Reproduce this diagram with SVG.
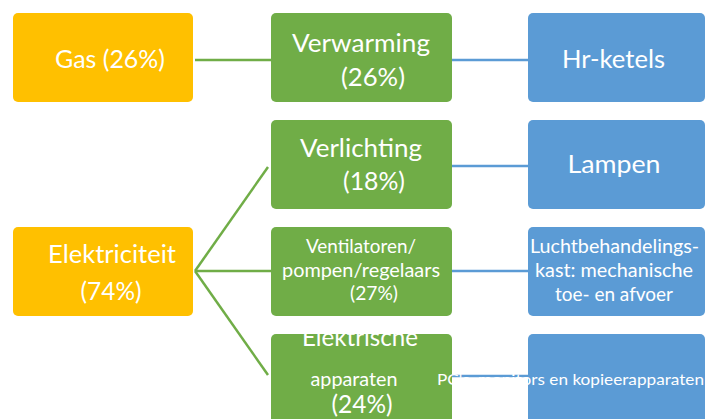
<svg xmlns="http://www.w3.org/2000/svg" width="706" height="419" viewBox="0 0 706 419">
<style>
.box{stroke:none}
.src{fill:#FFC000}
.mid{fill:#70AD47}
.dst{fill:#5B9BD5}
.g{stroke:#70AD47;stroke-width:2.5;fill:none}
.b{stroke:#5B9BD5;stroke-width:2.5;fill:none}
text{font-family:Lato,"Liberation Sans",Arial,sans-serif;fill:#FFFFFF;text-anchor:middle}
.big{font-size:25px}
.sm{font-size:19.5px}
.xs{font-size:16px}
</style>
<rect width="706" height="419" fill="#FFFFFF"/>
<g id="connectors">
<line class="g" x1="195" y1="60" x2="271" y2="60"/>
<line class="b" x1="452" y1="60" x2="528" y2="60"/>
<line class="b" x1="452" y1="166" x2="528" y2="166"/>
<line class="b" x1="452" y1="271" x2="528" y2="271"/>
<line class="b" x1="452" y1="376" x2="528" y2="376"/>
<line class="g" x1="195" y1="271" x2="268" y2="167"/>
<line class="g" x1="195" y1="271" x2="271" y2="271"/>
<line class="g" x1="195" y1="271" x2="268" y2="375"/>
</g>
<g id="gas">
<rect class="box src" x="13" y="13" width="180" height="89" rx="5"/>
<text class="big" x="110" y="68" textLength="110" lengthAdjust="spacingAndGlyphs">Gas (26%)</text>
</g>
<g id="verwarming">
<rect class="box mid" x="271" y="13" width="181" height="89" rx="5"/>
<text class="big" x="361" y="52" textLength="138" lengthAdjust="spacingAndGlyphs">Verwarming</text>
<text class="big" x="373" y="86" textLength="64" lengthAdjust="spacingAndGlyphs">(26%)</text>
</g>
<g id="hr-ketels">
<rect class="box dst" x="528" y="13" width="177" height="89" rx="5"/>
<text class="big" x="613.5" y="68" textLength="103" lengthAdjust="spacingAndGlyphs">Hr-ketels</text>
</g>
<g id="verlichting">
<rect class="box mid" x="271" y="120" width="181" height="89" rx="5"/>
<text class="big" x="361" y="157" textLength="122" lengthAdjust="spacingAndGlyphs">Verlichting</text>
<text class="big" x="374" y="190" textLength="62" lengthAdjust="spacingAndGlyphs">(18%)</text>
</g>
<g id="lampen">
<rect class="box dst" x="528" y="120" width="177" height="89" rx="5"/>
<text class="big" x="614" y="173" textLength="93" lengthAdjust="spacingAndGlyphs">Lampen</text>
</g>
<g id="elektriciteit">
<rect class="box src" x="13" y="227" width="180" height="89" rx="5"/>
<text class="big" x="112" y="263" textLength="128" lengthAdjust="spacingAndGlyphs">Elektriciteit</text>
<text class="big" x="111" y="300" textLength="61" lengthAdjust="spacingAndGlyphs">(74%)</text>
</g>
<g id="ventilatoren">
<rect class="box mid" x="271" y="227" width="181" height="89" rx="5"/>
<text class="sm" x="361" y="253" textLength="110" lengthAdjust="spacingAndGlyphs">Ventilatoren/</text>
<text class="sm" x="361" y="277" textLength="158" lengthAdjust="spacingAndGlyphs">pompen/regelaars</text>
<text class="sm" x="374" y="300" textLength="48" lengthAdjust="spacingAndGlyphs">(27%)</text>
</g>
<g id="luchtbehandelingskast">
<rect class="box dst" x="528" y="227" width="177" height="89" rx="5"/>
<text class="sm" x="614.5" y="253" textLength="169" lengthAdjust="spacingAndGlyphs">Luchtbehandelings-</text>
<text class="sm" x="614" y="277" textLength="158" lengthAdjust="spacingAndGlyphs">kast: mechanische</text>
<text class="sm" x="614" y="301" textLength="118" lengthAdjust="spacingAndGlyphs">toe- en afvoer</text>
</g>
<g id="elektrische-apparaten">
<rect class="box mid" x="271" y="334" width="181" height="95" rx="5"/>
<text class="big" x="360" y="346" textLength="116" lengthAdjust="spacingAndGlyphs">Elektrische</text>
<text class="sm" x="354" y="386" textLength="87" lengthAdjust="spacingAndGlyphs">apparaten</text>
<text class="big" x="362" y="413" textLength="61" lengthAdjust="spacingAndGlyphs">(24%)</text>
</g>
<g id="pcs">
<rect class="box dst" x="528" y="334" width="177" height="95" rx="5"/>
<text class="xs" x="570.5" y="385" textLength="267" lengthAdjust="spacingAndGlyphs">PC's, monitors en kopieerapparaten</text>
</g>
</svg>
